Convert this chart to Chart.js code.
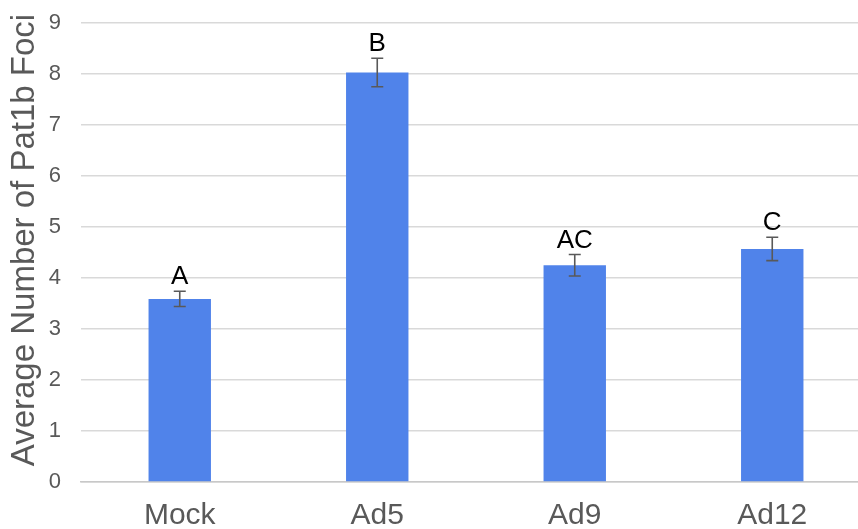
<!DOCTYPE html>
<html>
<head>
<meta charset="utf-8">
<script src="https://cdn.jsdelivr.net/npm/chart.js@4/dist/chart.umd.min.js"></script>
<style>
  html, body { margin: 0; padding: 0; background: #fff; overflow: hidden; }
  #frame { position: absolute; left: 0; top: 0; width: 858px; height: 529px; overflow: hidden; }
  #wrap { position: absolute; left: 0; top: 0; width: 871px; height: 529px; }
</style>
</head>
<body>
<div id="frame"><div id="wrap"><canvas id="chart" width="871" height="529"></canvas></div></div>
<script>
// Average Pat1b foci per condition, with standard error and significance groups
const categories = ['Mock', 'Ad5', 'Ad9', 'Ad12'];
const meanFoci = [3.59, 8.03, 4.25, 4.57];
const errorFoci = [0.15, 0.28, 0.21, 0.23];
const groupLetters = ['A', 'B', 'AC', 'C'];
const yTicks = [0, 1, 2, 3, 4, 5, 6, 7, 8, 9];

const FONT = '"Liberation Sans", Arial, Helvetica, sans-serif';
const GREY_TEXT = '#595959';

// Error bars and group letters drawn on top of each bar
const errorBarPlugin = {
  id: 'errorBars',
  afterDatasetsDraw(chart) {
    const ctx = chart.ctx;
    const yScale = chart.scales.y;
    const meta = chart.getDatasetMeta(0);
    ctx.save();
    meta.data.forEach((bar, i) => {
      const x = bar.x;
      const yHi = yScale.getPixelForValue(meanFoci[i] + errorFoci[i]);
      const yLo = yScale.getPixelForValue(meanFoci[i] - errorFoci[i]);
      const cap = 6;
      ctx.strokeStyle = GREY_TEXT;
      ctx.lineWidth = 1.6;
      ctx.beginPath();
      ctx.moveTo(x, yHi); ctx.lineTo(x, yLo);
      ctx.moveTo(x - cap, yHi); ctx.lineTo(x + cap, yHi);
      ctx.moveTo(x - cap, yLo); ctx.lineTo(x + cap, yLo);
      ctx.stroke();

      ctx.fillStyle = '#000';
      ctx.font = '26px ' + FONT;
      ctx.textAlign = 'center';
      ctx.textBaseline = 'alphabetic';
      ctx.fillText(groupLetters[i], x, yHi - 7);
    });
    ctx.restore();
  }
};

new Chart(document.getElementById('chart'), {
  type: 'bar',
  data: {
    labels: categories,
    datasets: [{
      data: meanFoci,
      backgroundColor: '#5083EA',
      borderWidth: 0,
      categoryPercentage: 1,
      barPercentage: 0.316
    }]
  },
  options: {
    responsive: false,
    animation: false,
    events: [],
    layout: { padding: { top: 23, left: 0, right: 0, bottom: 0 } },
    plugins: {
      legend: { display: false },
      tooltip: { enabled: false }
    },
    scales: {
      x: {
        grid: { display: false, drawTicks: false },
        border: { display: true, color: '#c8c8c8', width: 1.5 },
        ticks: {
          color: GREY_TEXT,
          font: { family: FONT, size: 30 },
          padding: 16,
          maxRotation: 0
        },
        afterFit(scale) { scale.height = 47; }
      },
      y: {
        min: 0,
        max: 9,
        afterBuildTicks(scale) { scale.ticks = yTicks.map(v => ({ value: v })); },
        grid: { color: '#d9d9d9', lineWidth: 1.5, drawTicks: false },
        border: { display: false },
        ticks: {
          color: GREY_TEXT,
          font: { family: FONT, size: 22 },
          padding: 20
        },
        title: {
          display: true,
          // leading spaces nudge the centred title a little toward the top
          text: '  \u2009Average Number of Pat1b Foci',
          color: GREY_TEXT,
          font: { family: FONT, size: 33 },
          padding: { top: 5, bottom: 0 }
        },
        afterFit(scale) {
          scale.width = 81;
          scale.paddingTop = 0;
          scale.paddingBottom = 0;
        }
      }
    }
  },
  plugins: [errorBarPlugin]
});
</script>
</body>
</html>
